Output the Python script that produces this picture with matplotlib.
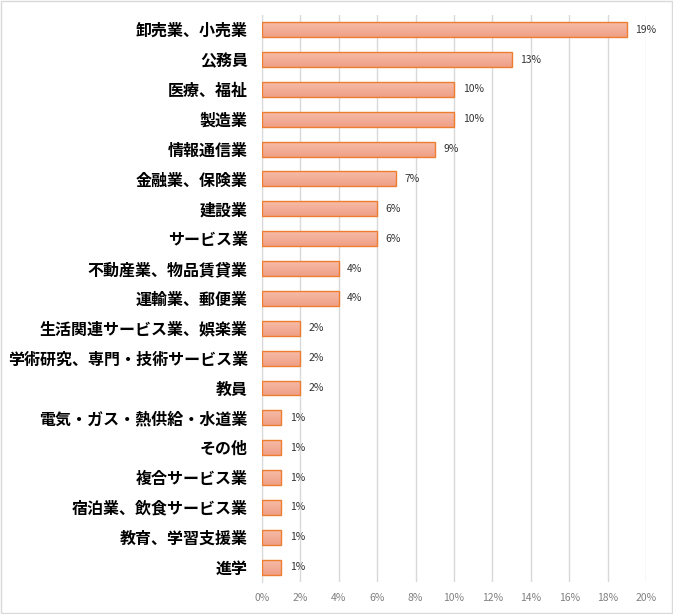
import matplotlib.pyplot as plt
import numpy as np
from matplotlib.patches import Rectangle
from matplotlib.colors import LinearSegmentedColormap

plt.rcParams['font.family'] = ['Noto Sans CJK JP', 'DejaVu Sans']

# データ
categories = ['卸売業、小売業', '公務員', '医療、福祉', '製造業', '情報通信業',
              '金融業、保険業', '建設業', 'サービス業', '不動産業、物品賃貸業',
              '運輸業、郵便業', '生活関連サービス業、娯楽業', '学術研究、専門・技術サービス業',
              '教員', '電気・ガス・熱供給・水道業', 'その他', '複合サービス業',
              '宿泊業、飲食サービス業', '教育、学習支援業', '進学']
values = [19, 13, 10, 10, 9, 7, 6, 6, 4, 4, 2, 2, 2, 1, 1, 1, 1, 1, 1]
xticks = [0, 2, 4, 6, 8, 10, 12, 14, 16, 18, 20]

fig = plt.figure(figsize=(6.73, 6.14), dpi=100)
ax = fig.add_axes([0.389, 0.052, 0.571, 0.924])

y = np.arange(len(categories))
bars = ax.barh(y, values, height=0.5, color='none', edgecolor='#ED7D31', linewidth=1.0, zorder=3)

# グラデーション
grad = np.linspace(0, 1, 50).reshape(-1, 1)
cmap = LinearSegmentedColormap.from_list('g', ['#F6BCA8', '#F09F86'])
for b in bars:
    x0, y0 = b.get_x(), b.get_y()
    w, h = b.get_width(), b.get_height()
    im = ax.imshow(grad, extent=[x0, x0 + w, y0 + h, y0], cmap=cmap, aspect='auto', zorder=2)
    im.set_clip_path(b)

for yi, v in zip(y, values):
    ax.text(v + 0.45, yi, f'{v}%', va='center', ha='left', fontsize=7.5, color='#333333')

ax.set_ylim(len(categories) - 0.5, -0.5)
ax.set_xlim(0, 20)
ax.set_yticks(y)
ax.set_yticklabels(categories, fontsize=11.5, fontweight='bold')
ax.set_xticks(xticks)
ax.set_xticklabels([f'{t}%' for t in xticks], fontsize=7.5, color='#808080')
ax.tick_params(axis='both', length=0)
ax.tick_params(axis='x', pad=8)
ax.tick_params(axis='y', pad=10)
ax.grid(axis='x', color='#D9D9D9', linewidth=1.0, zorder=0)
for s in ['top', 'right', 'bottom']:
    ax.spines[s].set_visible(False)
ax.spines['left'].set_color('#D9D9D9')

fig.patches.append(Rectangle((0.001, 0.001), 0.997, 0.997, transform=fig.transFigure,
                             fill=False, edgecolor='#D9D9D9', linewidth=1))

plt.savefig('out.png', dpi=100)
